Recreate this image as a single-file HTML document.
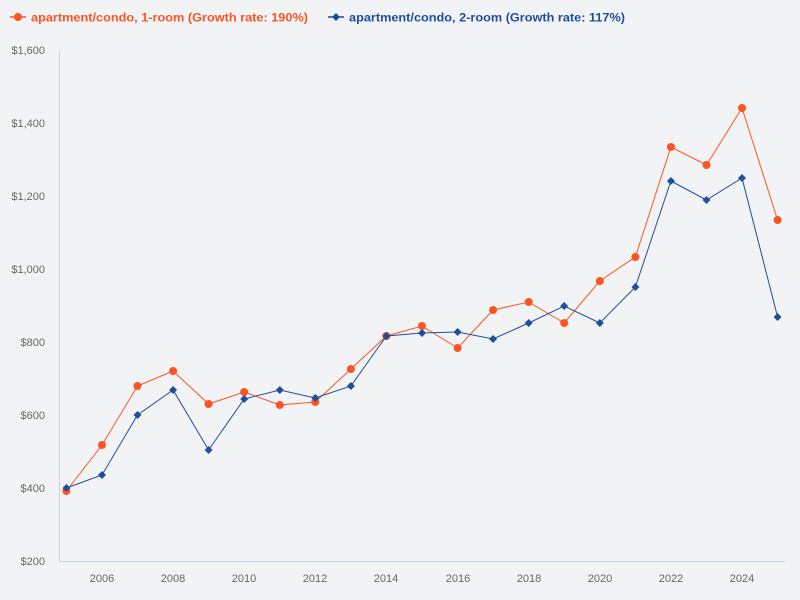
<!DOCTYPE html>
<html><head><meta charset="utf-8"><style>
html,body{margin:0;padding:0;background:#f2f3f5;}
svg{display:block;font-family:"Liberation Sans",sans-serif;}
</style></head><body>
<svg width="800" height="600" viewBox="0 0 800 600">
<rect width="800" height="600" fill="#f2f3f5"/>
<g font-size="12" font-weight="bold">
<line x1="10" y1="17" x2="26" y2="17" stroke="#fc5424" stroke-width="1.5"/><circle cx="18" cy="17" r="4" fill="#fc5424"/>
<text x="31" y="21.5" fill="#fc5424" textLength="277" lengthAdjust="spacingAndGlyphs">apartment/condo, 1-room (Growth rate: 190%)</text>
<line x1="328" y1="17" x2="344" y2="17" stroke="#1f4e9c" stroke-width="1.5"/><path d="M336 13 L340 17 L336 21 L332 17Z" fill="#1f4e9c"/>
<text x="349" y="21.5" fill="#1f4e9c" textLength="276" lengthAdjust="spacingAndGlyphs">apartment/condo, 2-room (Growth rate: 117%)</text>
</g>
<line x1="59.5" y1="50" x2="59.5" y2="562" stroke="#c5d3e3"/>
<line x1="59.5" y1="561.5" x2="785" y2="561.5" stroke="#c5d3e3"/>
<g font-size="11" fill="#666" text-anchor="end">
<text x="45" y="565">$200</text><text x="45" y="492">$400</text><text x="45" y="419">$600</text><text x="45" y="346">$800</text><text x="45" y="273">$1,000</text><text x="45" y="200">$1,200</text><text x="45" y="127">$1,400</text><text x="45" y="54">$1,600</text>
</g>
<g font-size="11" fill="#666" text-anchor="middle">
<text x="102" y="582">2006</text><text x="173" y="582">2008</text><text x="244" y="582">2010</text><text x="315" y="582">2012</text><text x="386" y="582">2014</text><text x="458" y="582">2016</text><text x="529" y="582">2018</text><text x="600" y="582">2020</text><text x="671" y="582">2022</text><text x="742" y="582">2024</text>
</g>
<polyline fill="none" stroke="#fc5424" stroke-width="1" points="66.4,491 102,445 137.5,386 173.1,371 208.6,404 244.2,392 279.8,405 315.3,402 350.9,369 386.4,336 422,326 457.6,348 493.1,310 528.7,302 564.2,323 599.8,281 635.4,257 670.9,147 706.5,165 742,108 777.6,220"/>
<g fill="#fc5424">
<circle cx="66.4" cy="491" r="4"/><circle cx="102" cy="445" r="4"/><circle cx="137.5" cy="386" r="4"/><circle cx="173.1" cy="371" r="4"/><circle cx="208.6" cy="404" r="4"/><circle cx="244.2" cy="392" r="4"/><circle cx="279.8" cy="405" r="4"/><circle cx="315.3" cy="402" r="4"/><circle cx="350.9" cy="369" r="4"/><circle cx="386.4" cy="336" r="4"/><circle cx="422" cy="326" r="4"/><circle cx="457.6" cy="348" r="4"/><circle cx="493.1" cy="310" r="4"/><circle cx="528.7" cy="302" r="4"/><circle cx="564.2" cy="323" r="4"/><circle cx="599.8" cy="281" r="4"/><circle cx="635.4" cy="257" r="4"/><circle cx="670.9" cy="147" r="4"/><circle cx="706.5" cy="165" r="4"/><circle cx="742" cy="108" r="4"/><circle cx="777.6" cy="220" r="4"/>
</g>
<polyline fill="none" stroke="#1f4e9c" stroke-width="1" points="66.4,488 102,475 137.5,415 173.1,390 208.6,450 244.2,399 279.8,390 315.3,398 350.9,386 386.4,336 422,333 457.6,332 493.1,339 528.7,323 564.2,306 599.8,323 635.4,287 670.9,181 706.5,200 742,178 777.6,317"/>
<g fill="#1f4e9c">
<path d="M66.4 484l4 4-4 4-4-4z"/><path d="M102 471l4 4-4 4-4-4z"/><path d="M137.5 411l4 4-4 4-4-4z"/><path d="M173.1 386l4 4-4 4-4-4z"/><path d="M208.6 446l4 4-4 4-4-4z"/><path d="M244.2 395l4 4-4 4-4-4z"/><path d="M279.8 386l4 4-4 4-4-4z"/><path d="M315.3 394l4 4-4 4-4-4z"/><path d="M350.9 382l4 4-4 4-4-4z"/><path d="M386.4 332l4 4-4 4-4-4z"/><path d="M422 329l4 4-4 4-4-4z"/><path d="M457.6 328l4 4-4 4-4-4z"/><path d="M493.1 335l4 4-4 4-4-4z"/><path d="M528.7 319l4 4-4 4-4-4z"/><path d="M564.2 302l4 4-4 4-4-4z"/><path d="M599.8 319l4 4-4 4-4-4z"/><path d="M635.4 283l4 4-4 4-4-4z"/><path d="M670.9 177l4 4-4 4-4-4z"/><path d="M706.5 196l4 4-4 4-4-4z"/><path d="M742 174l4 4-4 4-4-4z"/><path d="M777.6 313l4 4-4 4-4-4z"/>
</g>
</svg>
</body></html>
